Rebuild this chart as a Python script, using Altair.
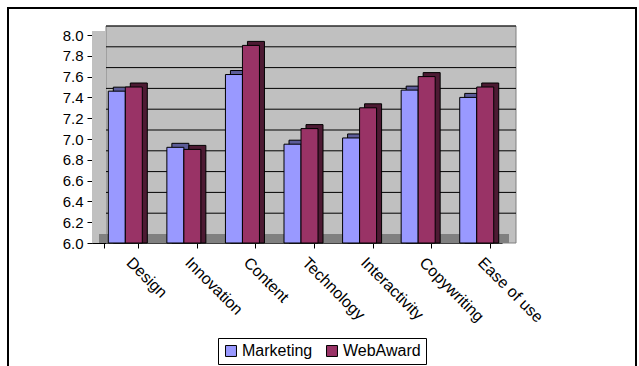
import altair as alt
import pandas as pd

categories = ["Design", "Innovation", "Content", "Technology", "Interactivity", "Copywriting", "Ease of use"]
marketing = [7.46, 6.92, 7.62, 6.95, 7.01, 7.47, 7.40]
webaward = [7.50, 6.90, 7.90, 7.10, 7.30, 7.60, 7.50]
series = ["Marketing", "WebAward"]
colors = ["#9999FF", "#993366"]
dark_colors = ["#5C5C99", "#4D1A33"]
y_ticks = [6.2, 6.4, 6.6, 6.8, 7.0, 7.2, 7.4, 7.6, 7.8, 8.0]
y_labels = [6.0, 6.2, 6.4, 6.6, 6.8, 7.0, 7.2, 7.4, 7.6, 7.8, 8.0]

rows = []
for c, m, w in zip(categories, marketing, webaward):
    rows.append({"category": c, "series": series[0], "value": m, "dark": dark_colors[0]})
    rows.append({"category": c, "series": series[1], "value": w, "dark": dark_colors[1]})
df = pd.DataFrame(rows)
grid_df = pd.DataFrame({"v": y_ticks})
one = pd.DataFrame({"a": [0]})

W, H = 410, 208
FONT = "Liberation Sans"

yscale = alt.Scale(domain=[6, 8], nice=False, zero=False)
xscale = alt.Scale(paddingInner=0.42, paddingOuter=0.21)

xaxis = alt.Axis(labelAngle=45, labelAlign="left", labelBaseline="top",
                 labelFont=FONT, labelFontSize=16, labelColor="#000000",
                 labelPadding=6, labelOffset=13, tickBand="extent", tickSize=5,
                 tickColor="#000000", domainColor="#000000", grid=False)
yaxis = alt.Axis(values=y_labels, format=".1f", labelFont=FONT, labelFontSize=15,
                 labelColor="#000000", tickSize=5, labelPadding=4, labelOverlap=False,
                 labelFlush=False, tickColor="#000000", domainColor="#000000", grid=False)

wall = alt.Chart(one).mark_rect(fill="#C0C0C0", stroke="#808080", strokeWidth=1, yOffset=-9).encode(
    x=alt.value(14), x2=alt.value(W + 14),
    y=alt.Y(datum=8, scale=yscale, axis=yaxis, title=None), y2=alt.datum(6),
)
side = alt.Chart(one).mark_rect(fill="#C0C0C0", yOffset=-4).encode(
    x=alt.value(0), x2=alt.value(14),
    y=alt.Y(datum=8, axis=yaxis, title=None), y2=alt.datum(6),
)
floor = alt.Chart(one).mark_rect(fill="#808080").encode(
    x=alt.value(7), x2=alt.value(W + 7),
    y=alt.Y(datum=6, axis=yaxis, title=None), y2=alt.value(H - 9),
)
grid = alt.Chart(grid_df).mark_rule(color="#000000", strokeWidth=1, yOffset=-9).encode(
    y=alt.Y("v:Q", axis=yaxis, title=None), x=alt.value(14), x2=alt.value(W + 14),
)


def enc(rng):
    return dict(
        x=alt.X("category:N", sort=categories, scale=xscale, title=None, axis=xaxis),
        xOffset=alt.XOffset("series:N", sort=series, scale=alt.Scale(range=rng)),
        y=alt.Y("value:Q", scale=yscale, title=None, axis=yaxis),
        y2=alt.datum(6),
    )


shadow = alt.Chart(df).mark_bar(stroke="#000000", strokeWidth=1, yOffset=-4).encode(
    color=alt.Color("dark:N", scale=None), **enc([9, 43])
)
bars = alt.Chart(df).mark_bar(stroke="#000000", strokeWidth=1).encode(
    color=alt.Color("series:N", sort=series, scale=alt.Scale(domain=series, range=colors),
                    legend=alt.Legend(title=None, orient="none", legendX=126, legendY=303,
                                      direction="horizontal", symbolType="square",
                                      symbolSize=120, symbolStrokeColor="#000000",
                                      symbolStrokeWidth=1, labelFont=FONT, labelFontSize=16,
                                      labelColor="#000000", strokeColor="#000000",
                                      padding=5, columnPadding=11, labelOffset=3)),
    **enc([4, 38])
)

frame = alt.Chart(one).mark_rect(fill=None, stroke="#000000", strokeWidth=2).encode(
    x=alt.value(-84), x2=alt.value(544), y=alt.value(-27), y2=alt.value(340),
)

chart = alt.layer(wall, side, floor, grid, shadow, bars, frame).resolve_scale(
    xOffset="independent"
).properties(
    width=W, height=H,
    autosize=alt.AutoSizeParams(type="none"),
    padding={"left": 92, "top": 35, "right": 137, "bottom": 123},
).configure_view(stroke=None).configure(background="#FFFFFF")

chart.save("out.html", embed_options={"renderer": "svg", "actions": False})
